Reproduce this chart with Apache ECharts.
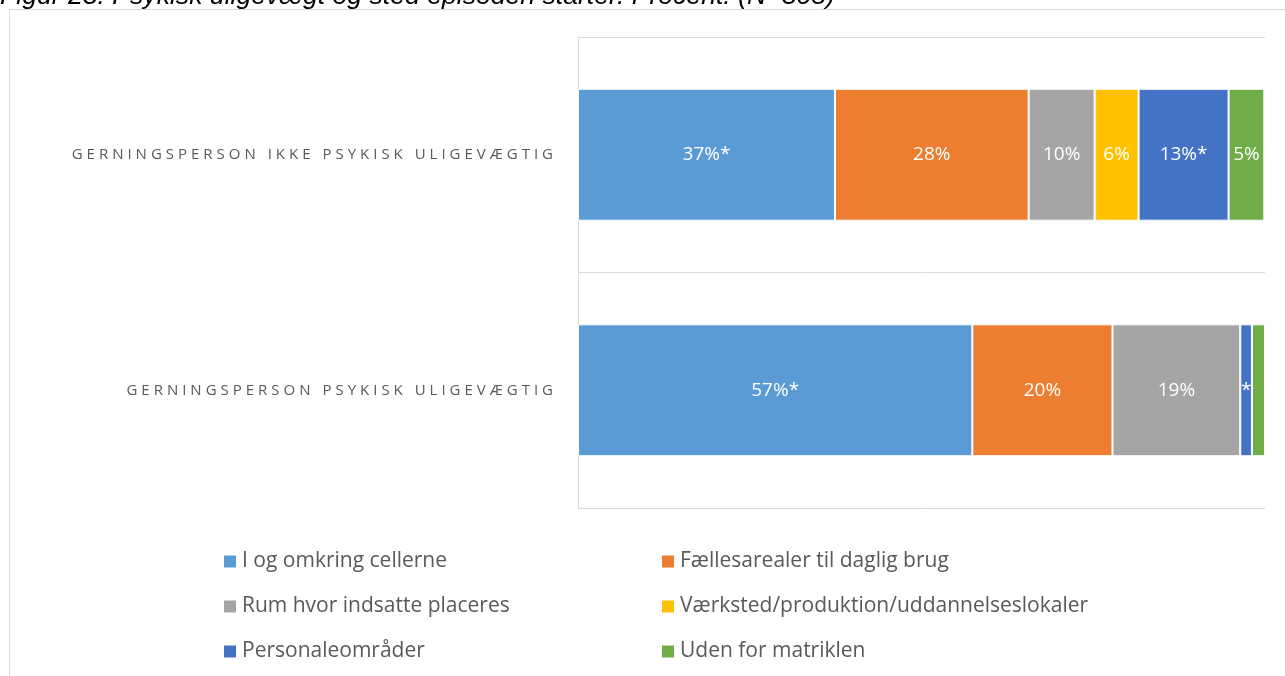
<!DOCTYPE html>
<html><head><meta charset="utf-8">
<script src="https://cdn.jsdelivr.net/npm/echarts@6/dist/echarts.min.js"></script>
<style>html,body{margin:0;padding:0;background:#fff}#c{width:1285px;height:676px}</style>
</head><body><div id="c"></div>
<script>
const categories = ['GERNINGSPERSON PSYKISK ULIGEVÆGTIG', 'GERNINGSPERSON IKKE PSYKISK ULIGEVÆGTIG'];
const seriesNames = ['I og omkring cellerne', 'Fællesarealer til daglig brug', 'Rum hvor indsatte placeres', 'Værksted/produktion/uddannelseslokaler', 'Personaleområder', 'Uden for matriklen'];
// values per series: [psykisk, ikke psykisk]
const cellerne = [57.4, 37.4];
const faelles = [20.4, 28.2];
const rum = [18.6, 9.6];
const vaerksted = [0, 6.4];
const personale = [1.7, 13.1];
const uden = [1.9, 5.2];
const labelsCellerne = ['57%*', '37%*'];
const labelsFaelles = ['20%', '28%'];
const labelsRum = ['19%', '10%'];
const labelsVaerksted = ['', '6%'];
const labelsPersonale = ['*', '13%*'];
const labelsUden = ['', '5%'];
const titleText = 'Figur 23. Psykisk uligevægt og sted episoden starter. Procent. (N=305)';

const colors = ['#5B9BD5', '#ED7D31', '#A5A5A5', '#FFC000', '#4472C4', '#70AD47'];
const values = [cellerne, faelles, rum, vaerksted, personale, uden];
const labels = [labelsCellerne, labelsFaelles, labelsRum, labelsVaerksted, labelsPersonale, labelsUden];

const chart = echarts.init(document.getElementById('c'), null, {renderer: 'canvas'});
const spaced = s => s.split('').join('\u2009\u200A');

chart.setOption({
  animation: false,
  color: colors,
  graphic: [
    {type: 'rect', shape: {x: 9.5, y: 9.5, width: 1290, height: 700}, style: {fill: 'none', stroke: '#d9d9d9', lineWidth: 1}, silent: true},
    {type: 'text', left: 0, top: -17, style: {text: titleText, font: 'italic 26.6px "Liberation Sans", Arial, sans-serif', fill: '#000'}, z: -1}
  ],
  grid: {left: 578, right: 20, top: 37, bottom: 168, containLabel: false},
  xAxis: {type: 'value', min: 0, max: 100, show: false},
  yAxis: {
    type: 'category', data: categories,
    axisLine: {show: true, lineStyle: {color: '#d9d9d9', width: 1}},
    axisTick: {show: false},
    splitLine: {show: true, lineStyle: {color: '#d9d9d9', width: 1}},
    axisLabel: {margin: 25, color: '#595959', fontSize: 15, fontFamily: '"Open Sans", sans-serif', formatter: v => spaced(v)}
  },
  legend: [
    {left: 217, top: 546, orient: 'vertical', itemGap: 24, itemWidth: 14, itemHeight: 14, icon: 'rect',
     data: [seriesNames[0], seriesNames[2], seriesNames[4]],
     textStyle: {color: '#595959', fontSize: 21, fontFamily: '"Open Sans", sans-serif', padding: [0, 0, 0, 0]}},
    {left: 655, top: 546, orient: 'vertical', itemGap: 24, itemWidth: 14, itemHeight: 14, icon: 'rect',
     data: [seriesNames[1], seriesNames[3], seriesNames[5]],
     textStyle: {color: '#595959', fontSize: 21, fontFamily: '"Open Sans", sans-serif', padding: [0, 0, 0, 0]}}
  ],
  series: seriesNames.map((name, i) => ({
    name, type: 'bar', stack: 'total', barWidth: '56%',
    data: values[i],
    itemStyle: {color: colors[i], borderColor: '#fff', borderWidth: 1},
    label: {show: true, position: 'inside', color: '#fff', fontSize: 19, fontFamily: '"Open Sans", sans-serif',
      formatter: p => labels[i][p.dataIndex]}
  }))
});
</script></body></html>
